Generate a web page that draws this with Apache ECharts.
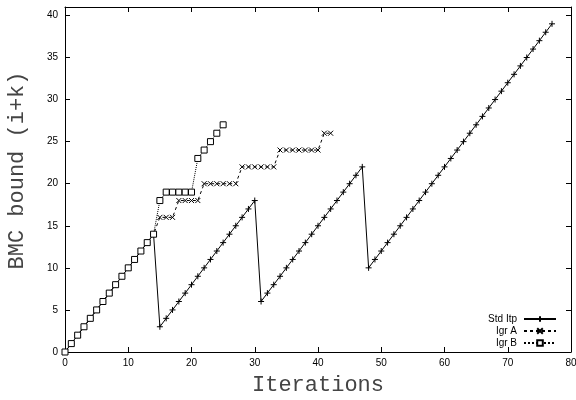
<!DOCTYPE html>
<html>
<head>
<meta charset="utf-8">
<script src="https://cdn.jsdelivr.net/npm/echarts@6/dist/echarts.min.js"></script>
<style>
  html, body { margin: 0; padding: 0; background: #fff; }
  #chart { width: 576px; height: 400px; }
</style>
</head>
<body>
<div id="chart"></div>
<script>
// iterations (x) and BMC bound (y) for each run
const stdX = [0,1,2,3,4,5,6,7,8,9,10,11,12,13,14,15,16,17,18,19,20,21,22,23,24,25,26,27,28,29,30,31,32,33,34,35,36,37,38,39,40,41,42,43,44,45,46,47,48,49,50,51,52,53,54,55,56,57,58,59,60,61,62,63,64,65,66,67,68,69,70,71,72,73,74,75,76,77]
const stdY = [0,1,2,3,4,5,6,7,8,9,10,11,12,13,14,
  3,4,5,6,7,8,9,10,11,12,13,14,15,16,17,18,
  6,7,8,9,10,11,12,13,14,15,16,17,18,19,20,21,22,
  10,11,12,13,14,15,16,17,18,19,20,21,22,23,24,25,26,27,28,29,30,31,32,33,34,35,36,37,38,39]

const igrAX = [0,1,2,3,4,5,6,7,8,9,10,11,12,13,14,15,16,17,18,19,20,21,22,23,24,25,26,27,28,29,30,31,32,33,34,35,36,37,38,39,40,41,42]
const igrAY = [0,1,2,3,4,5,6,7,8,9,10,11,12,13,14,
  16,16,16,18,18,18,18,20,20,20,20,20,20,22,22,22,22,22,22,24,24,24,24,24,24,24,26,26]

const igrBX = [0,1,2,3,4,5,6,7,8,9,10,11,12,13,14,15,16,17,18,19,20,21,22,23,24,25]
const igrBY = [0,1,2,3,4,5,6,7,8,9,10,11,12,13,14,
  18,19,19,19,19,19,23,24,25,26,27]

const seriesNames = ["Std Itp", "Igr A", "Igr B"]
const xTicks = { min: 0, max: 80, interval: 10 }
const yTicks = { min: 0, max: 41, interval: 5 }

const plusPath = "path://M0,5L10,5M5,0L5,10"
const crossPath = "path://M0,0L10,10M10,0L0,10"

const pairs = (xs, ys) => xs.map((x, i) => [x, ys[i]])

const chart = echarts.init(document.getElementById("chart"))

const labelFont = { color: "#000", fontSize: 10, fontFamily: "Liberation Sans" }
const nameFont = { color: "#444", fontSize: 22, fontFamily: "Liberation Mono" }
const frameLine = { show: true, onZero: false, lineStyle: { color: "#000", width: 1 } }
const frameTick = { inside: true, length: 5, lineStyle: { color: "#000" } }

const option = {
  animation: false,
  backgroundColor: "#fff",
  grid: { left: 65, right: 5, top: 7, bottom: 48, outerBoundsMode: "none", containLabel: false },
  legend: {
    orient: "vertical",
    right: 14,
    top: 308,
    align: "right",
    itemWidth: 32,
    itemHeight: 7,
    itemGap: 0,
    textStyle: { fontSize: 10, lineHeight: 12, color: "#000", fontFamily: "Liberation Sans", padding: [0, 2, 0, 0] },
    data: seriesNames
  },
  xAxis: [
    {
      type: "value",
      min: xTicks.min,
      max: xTicks.max,
      interval: xTicks.interval,
      name: "Iterations",
      nameLocation: "middle",
      nameGap: 22,
      nameTextStyle: nameFont,
      axisLine: frameLine,
      axisTick: frameTick,
      axisLabel: Object.assign({ margin: 6 }, labelFont),
      splitLine: { show: false }
    },
    {
      type: "value",
      position: "top",
      min: xTicks.min,
      max: xTicks.max,
      interval: xTicks.interval,
      axisLine: frameLine,
      axisTick: frameTick,
      axisLabel: { show: false },
      splitLine: { show: false }
    }
  ],
  yAxis: [
    {
      type: "value",
      min: yTicks.min,
      max: yTicks.max,
      interval: yTicks.interval,
      name: "BMC bound (i+k)",
      nameLocation: "middle",
      nameGap: 37,
      nameTextStyle: Object.assign({ padding: [0, 0, 0, 18] }, nameFont),
      axisLine: frameLine,
      axisTick: frameTick,
      axisLabel: Object.assign({ margin: 7, showMaxLabel: false }, labelFont),
      splitLine: { show: false }
    },
    {
      type: "value",
      position: "right",
      min: yTicks.min,
      max: yTicks.max,
      interval: yTicks.interval,
      axisLine: frameLine,
      axisTick: frameTick,
      axisLabel: { show: false },
      splitLine: { show: false }
    }
  ],
  series: [
    {
      name: seriesNames[0],
      type: "line",
      data: pairs(stdX, stdY),
      symbol: plusPath,
      symbolSize: 6,
      showAllSymbol: true,
      lineStyle: { color: "#000", width: 1 },
      itemStyle: { color: "#000", borderColor: "#000", borderWidth: 1 },
      z: 2
    },
    {
      name: seriesNames[1],
      type: "line",
      data: pairs(igrAX, igrAY),
      symbol: crossPath,
      symbolSize: 5,
      showAllSymbol: true,
      lineStyle: { color: "#000", width: 1, type: [3, 3] },
      itemStyle: { color: "#000", borderColor: "#000", borderWidth: 1 },
      z: 3
    },
    {
      name: seriesNames[2],
      type: "line",
      data: pairs(igrBX, igrBY),
      symbol: "rect",
      symbolSize: 6,
      showAllSymbol: true,
      lineStyle: { color: "#000", width: 1, type: "dotted" },
      itemStyle: { color: "#fff", borderColor: "#000", borderWidth: 1 },
      z: 4
    }
  ]
}

chart.setOption(option)
</script>
</body>
</html>
